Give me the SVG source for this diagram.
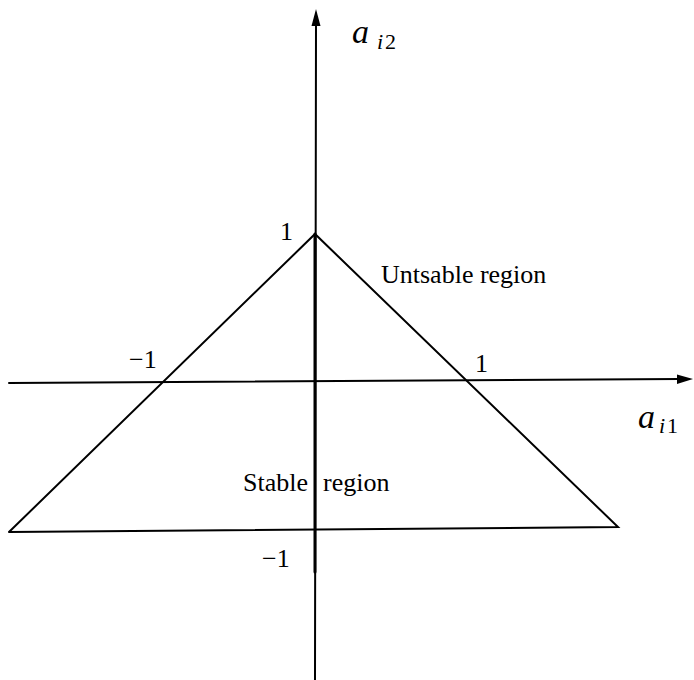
<svg xmlns="http://www.w3.org/2000/svg" width="694" height="680" viewBox="0 0 694 680">
<style>
.ln{stroke:#000;fill:none;stroke-width:2;stroke-linecap:round}
.t{font-family:"Liberation Serif","Times New Roman",serif;font-size:26px;fill:#000}
.it{font-style:italic}
.big{font-size:34px}
.sub{font-size:22px}
</style>
<rect width="694" height="680" fill="#fff"/>
<g id="connectors">
<line class="ln" x1="316" y1="22" x2="315" y2="680"/>
<line class="ln" x1="315" y1="234" x2="315" y2="572" style="stroke-width:3"/>
<polygon points="316,9 311.5,26 320.5,26" fill="#000"/>
<line class="ln" x1="9" y1="383" x2="680" y2="379"/>
<polygon points="693,379 677,374.5 677,384" fill="#000"/>
</g>
<g id="triangle">
<polyline class="ln" points="9,532 315,234 618,527 9,532" style="stroke-linejoin:miter"/>
</g>
<g id="labels">
<text class="t it big" x="352" y="43">a</text>
<text class="t it sub" x="377" y="49">i</text>
<text class="t sub" x="385" y="49">2</text>
<text class="t it big" x="638" y="428">a</text>
<text class="t it sub" x="659" y="433">i</text>
<text class="t sub" x="667" y="433">1</text>
<text class="t" x="280" y="240">1</text>
<text class="t" x="129" y="368">−1</text>
<text class="t" x="475" y="372">1</text>
<text class="t" x="262" y="567">−1</text>
<text class="t" x="381" y="283">Untsable region</text>
<text class="t" x="243" y="491">Stable</text>
<text class="t" x="323" y="491">region</text>
</g>
</svg>
